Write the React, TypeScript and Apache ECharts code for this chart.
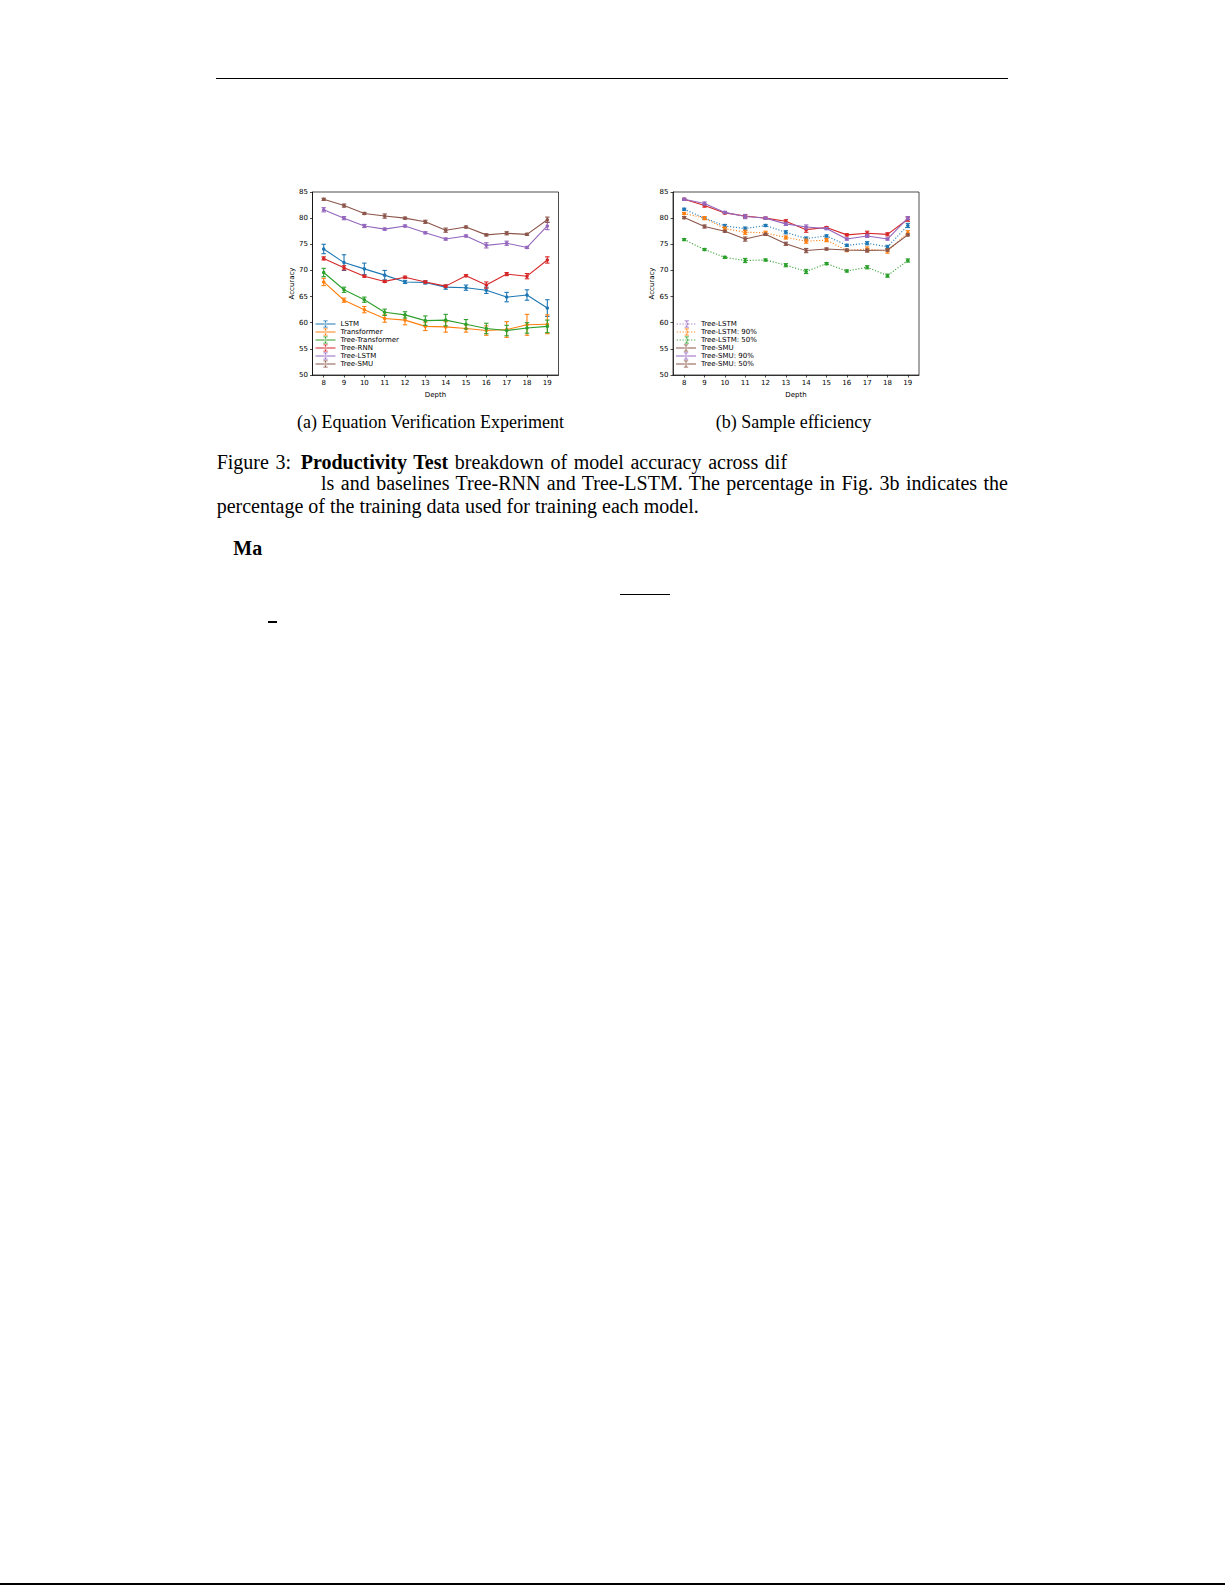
import React, { useEffect, useRef } from 'react'
import * as echarts from 'echarts'

// x axis (depth) and y ticks
const depths = [8, 9, 10, 11, 12, 13, 14, 15, 16, 17, 18, 19]

// (a) Equation Verification Experiment
const eqNames = ['LSTM', 'Transformer', 'Tree-Transformer', 'Tree-RNN', 'Tree-LSTM', 'Tree-SMU']
const eqLstm = [74.1, 71.5, 70.3, 69.1, 67.8, 67.7, 66.8, 66.7, 66.2, 64.9, 65.3, 62.8]
const eqLstmErr = [0.9, 1.5, 1.1, 0.9, 0.3, 0.3, 0.4, 0.5, 0.6, 0.9, 1.0, 1.6]
const eqTransformer = [67.8, 64.3, 62.5, 60.8, 60.5, 59.3, 59.2, 58.9, 58.5, 58.7, 59.6, 59.7]
const eqTransformerErr = [0.7, 0.4, 0.6, 0.7, 0.9, 0.8, 1.0, 0.7, 0.9, 1.5, 2.0, 1.8]
const eqTreeTransformer = [69.6, 66.3, 64.4, 62.0, 61.5, 60.4, 60.5, 59.7, 58.9, 58.5, 59.0, 59.3]
const eqTreeTransformerErr = [0.8, 0.5, 0.5, 0.6, 0.6, 0.9, 1.1, 0.9, 1.0, 1.0, 1.0, 1.2]
const eqTreeRnn = [72.3, 70.5, 68.9, 67.9, 68.7, 67.8, 67.0, 69.0, 67.2, 69.3, 68.9, 72.0]
const eqTreeRnnErr = [0.3, 0.4, 0.2, 0.2, 0.2, 0.2, 0.2, 0.2, 0.6, 0.3, 0.5, 0.6]
const eqTreeLstm = [81.6, 80.0, 78.5, 77.9, 78.5, 77.2, 76.0, 76.6, 74.8, 75.2, 74.4, 78.5]
const eqTreeLstmErr = [0.4, 0.3, 0.3, 0.2, 0.2, 0.2, 0.2, 0.2, 0.5, 0.4, 0.2, 0.7]
const eqTreeSmu = [83.6, 82.4, 80.9, 80.4, 80.0, 79.3, 77.7, 78.3, 76.8, 77.1, 76.9, 79.7]
const eqTreeSmuErr = [0.2, 0.3, 0.2, 0.4, 0.2, 0.3, 0.4, 0.2, 0.2, 0.3, 0.2, 0.5]

// (b) Sample efficiency
const seNames = ['Tree-LSTM', 'Tree-LSTM: 90%', 'Tree-LSTM: 50%', 'Tree-SMU', 'Tree-SMU: 90%', 'Tree-SMU: 50%']
const seTreeLstm = [81.7, 80.0, 78.5, 78.0, 78.6, 77.3, 76.1, 76.6, 74.8, 75.2, 74.5, 78.6]
const seTreeLstmErr = [0.2, 0.2, 0.3, 0.3, 0.2, 0.3, 0.3, 0.2, 0.2, 0.3, 0.3, 0.4]
const seTreeLstm90 = [80.9, 80.0, 78.0, 77.3, 77.2, 76.3, 75.6, 75.8, 73.8, 74.1, 73.7, 77.2]
const seTreeLstm90Err = [0.2, 0.3, 0.3, 0.4, 0.3, 0.3, 0.4, 0.3, 0.2, 0.4, 0.4, 0.4]
const seTreeLstm50 = [75.9, 74.0, 72.5, 71.9, 72.0, 71.0, 69.8, 71.3, 69.9, 70.6, 69.0, 71.9]
const seTreeLstm50Err = [0.2, 0.2, 0.2, 0.4, 0.2, 0.3, 0.4, 0.2, 0.2, 0.3, 0.3, 0.3]
const seTreeSmu = [83.6, 82.4, 81.0, 80.4, 80.0, 79.4, 77.8, 78.2, 76.8, 77.1, 76.9, 79.8]
const seTreeSmuErr = [0.2, 0.3, 0.2, 0.3, 0.2, 0.3, 0.5, 0.2, 0.2, 0.4, 0.3, 0.4]
const seTreeSmu90 = [83.6, 82.8, 81.1, 80.3, 80.0, 78.9, 78.3, 78.0, 76.0, 76.6, 76.0, 80.0]
const seTreeSmu90Err = [0.2, 0.3, 0.2, 0.4, 0.2, 0.3, 0.4, 0.2, 0.2, 0.3, 0.2, 0.3]
const seTreeSmu50 = [80.1, 78.4, 77.5, 76.0, 76.9, 75.1, 73.8, 74.1, 73.9, 73.8, 73.9, 76.8]
const seTreeSmu50Err = [0.2, 0.3, 0.2, 0.4, 0.2, 0.3, 0.4, 0.2, 0.2, 0.3, 0.2, 0.2]

const colors = ['#1f77b4', '#ff7f0e', '#2ca02c', '#d62728', '#9467bd', '#8c564b']
const seDotted = [true, true, true, false, false, false]

const FONT = '"DejaVu Sans", sans-serif'

// legend handle: line + error bar with caps + dot, 20x7 box
const barPart = 'M9.5,0h1v7h-1z M7.8,0h4.4v0.8h-4.4z M7.8,6.2h4.4v0.8h-4.4z M8.5,3.5a1.5,1.5 0 1,0 3,0a1.5,1.5 0 1,0 -3,0z'
const solidIcon = 'path://M0,2.95h20v1.1h-20z ' + barPart
let dots = ''
for (let x = 0; x < 20; x += 2.9) dots += `M${x},2.95h1.1v1.1h-1.1z `
const dottedIcon = 'path://' + dots + barPart

const buildSeries = (
  means: number[][],
  errs: number[][],
  names: string[],
  dotted: boolean[],
  axis: number
) => {
  const out: any[] = []
  means.forEach((m, i) => {
    const color = colors[i]
    out.push({
      name: names[i],
      type: 'line',
      xAxisIndex: axis,
      yAxisIndex: axis,
      data: depths.map((d, k) => [d, m[k]]),
      symbol: 'circle',
      symbolSize: 3.5,
      itemStyle: { color },
      lineStyle: { color, width: 1.1, type: dotted[i] ? [1.1, 1.8] : 'solid' },
      z: 2 + i * 2,
    })
    out.push({
      name: names[i] + ' err',
      type: 'custom',
      xAxisIndex: axis,
      yAxisIndex: axis,
      data: depths.map((d, k) => [d, m[k] - errs[i][k], m[k] + errs[i][k]]),
      encode: { x: 0, y: [1, 2] },
      silent: true,
      z: 3 + i * 2,
      renderItem: (_params: any, api: any) => {
        const x = api.value(0)
        const lo = api.coord([x, api.value(1)])
        const hi = api.coord([x, api.value(2)])
        const half = 2.2
        const style = { stroke: color, lineWidth: 1.1 }
        return {
          type: 'group',
          children: [
            { type: 'line', shape: { x1: lo[0], y1: lo[1], x2: hi[0], y2: hi[1] }, style },
            { type: 'line', shape: { x1: lo[0] - half, y1: lo[1], x2: lo[0] + half, y2: lo[1] }, style },
            { type: 'line', shape: { x1: hi[0] - half, y1: hi[1], x2: hi[0] + half, y2: hi[1] }, style },
          ],
        }
      },
    })
  })
  return out
}

const axisText = { fontSize: 7, color: '#000', fontFamily: FONT }
const axisLineStyle = { color: '#000', width: 0.7 }

const makeX = (gridIndex: number) => ({
  type: 'value',
  gridIndex,
  min: 7.45,
  max: 19.55,
  name: 'Depth',
  nameLocation: 'middle',
  nameGap: 12,
  nameTextStyle: axisText,
  axisLine: { show: true, lineStyle: axisLineStyle },
  axisTick: { show: true, customValues: depths, length: 2.5, lineStyle: axisLineStyle },
  axisLabel: { ...axisText, customValues: depths, margin: 4.5 },
  splitLine: { show: false },
})

const makeY = (gridIndex: number) => ({
  type: 'value',
  gridIndex,
  min: 50,
  max: 85,
  interval: 5,
  name: 'Accuracy',
  nameLocation: 'middle',
  nameRotate: 90,
  nameGap: 17,
  nameTextStyle: axisText,
  axisLine: { show: true, lineStyle: axisLineStyle },
  axisTick: { show: true, length: 2.5, lineStyle: axisLineStyle },
  axisLabel: { ...axisText, margin: 4.5 },
  splitLine: { show: false },
})

const makeLegend = (names: string[], icons: string[], left: number) => ({
  data: names.map((n, i) => ({ name: n, icon: icons[i] })),
  orient: 'vertical',
  left,
  top: 140.5,
  padding: 0,
  itemWidth: 20,
  itemHeight: 7,
  itemGap: 1,
  selectedMode: false,
  itemStyle: { borderWidth: 0 },
  textStyle: { ...axisText, lineHeight: 7 },
})

const Figure = () => {
  const chartRef = useRef<HTMLDivElement>(null)

  useEffect(() => {
    if (!chartRef.current) return
    const chart = echarts.init(chartRef.current, undefined, { renderer: 'svg' })

    const eqMeans = [eqLstm, eqTransformer, eqTreeTransformer, eqTreeRnn, eqTreeLstm, eqTreeSmu]
    const eqErrs = [eqLstmErr, eqTransformerErr, eqTreeTransformerErr, eqTreeRnnErr, eqTreeLstmErr, eqTreeSmuErr]
    const seMeans = [seTreeLstm, seTreeLstm90, seTreeLstm50, seTreeSmu, seTreeSmu90, seTreeSmu50]
    const seErrs = [seTreeLstmErr, seTreeLstm90Err, seTreeLstm50Err, seTreeSmuErr, seTreeSmu90Err, seTreeSmu50Err]

    chart.setOption({
      animation: false,
      grid: [
        { left: 52.5, top: 12, width: 246, height: 183, show: true, borderColor: '#000', borderWidth: 0.7 },
        { left: 413, top: 12, width: 246, height: 183, show: true, borderColor: '#000', borderWidth: 0.7 },
      ],
      xAxis: [makeX(0), makeX(1)],
      yAxis: [makeY(0), makeY(1)],
      legend: [
        makeLegend(eqNames, eqNames.map(() => solidIcon), 55.5),
        makeLegend(seNames, seDotted.map((d) => (d ? dottedIcon : solidIcon)), 416),
      ],
      series: [
        ...buildSeries(eqMeans, eqErrs, eqNames, eqNames.map(() => false), 0),
        ...buildSeries(seMeans, seErrs, seNames, seDotted, 1),
      ],
    })

    return () => {
      chart.dispose()
    }
  }, [])

  return <div ref={chartRef} style={{ position: 'absolute', left: 260, top: 180, width: 680, height: 225 }} />
}

const txt = (left: number, centerY: number, size: number): React.CSSProperties => ({
  position: 'absolute',
  left,
  top: centerY - size / 2,
  fontSize: size,
  lineHeight: `${size}px`,
  whiteSpace: 'nowrap',
})

export default function App() {
  return (
    <div
      style={{
        position: 'absolute',
        left: 0,
        top: 0,
        width: 1225,
        height: 1585,
        overflow: 'hidden',
        background: '#fff',
        color: '#000',
        fontFamily: '"Liberation Serif", "Times New Roman", serif',
      }}
    >
      <div style={{ position: 'absolute', left: 216, top: 77.5, width: 792, height: 1.2, background: '#000' }} />
      <Figure />
      <div style={txt(297, 421.7, 18)}>(a) Equation Verification Experiment</div>
      <div style={txt(715.7, 421.7, 18)}>(b) Sample efficiency</div>
      <div style={{ ...txt(216.7, 461.7, 20), wordSpacing: 1.7 }}>Figure 3:</div>
      <div style={{ ...txt(300.7, 461.7, 20), wordSpacing: 1.7 }}>
        <b>Productivity Test</b> breakdown of model accuracy across dif
      </div>
      <div style={{ ...txt(321, 483.3, 20), width: 687, textAlign: 'justify', textAlignLast: 'justify', whiteSpace: 'normal' }}>
        ls and baselines Tree-RNN and Tree-LSTM. The percentage in Fig. 3b indicates the
      </div>
      <div style={txt(216.7, 506, 20)}>percentage of the training data used for training each model.</div>
      <div style={txt(233.3, 548.3, 20)}>
        <b>Ma</b>
      </div>
      <div style={{ position: 'absolute', left: 620, top: 593.5, width: 50, height: 1.2, background: '#000' }} />
      <div style={{ position: 'absolute', left: 268.3, top: 621, width: 8.4, height: 1.5, background: '#000' }} />
      <div style={{ position: 'absolute', left: 0, top: 1583, width: 1225, height: 2, background: '#000' }} />
    </div>
  )
}
